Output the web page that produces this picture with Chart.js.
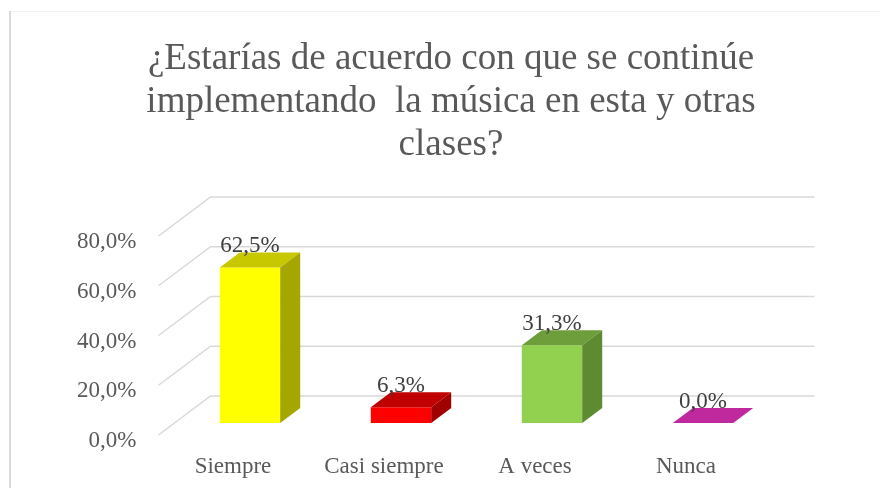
<!DOCTYPE html>
<html lang="es">
<head>
<meta charset="utf-8">
<title>Música en clase</title>
<script src="https://cdn.jsdelivr.net/npm/chart.js"></script>
<style>
  html, body { margin: 0; padding: 0; background: #fff; }
  #wrap { width: 880px; height: 488px; }
</style>
</head>
<body>
<div id="wrap"><canvas id="musicaChart" width="880" height="488"></canvas></div>
<script>
    // data
    const categories = ['Siempre', 'Casi siempre', 'A veces', 'Nunca'];
    const percentages = [0.625, 0.063, 0.313, 0.0];
    const titleLines = ['¿Estarías de acuerdo con que se continúe', 'implementando  la música en esta y otras', 'clases?'];

    // face colours: front / top / side
    const frontColors = ['#FFFF00', '#FF0000', '#92D050', '#C0289E'];
    const topColors = ['#C8C800', '#C00000', '#6E9E3C', '#C0289E'];
    const sideColors = ['#A6A600', '#A00000', '#5E8A32', '#9A1F80'];

    const FONT = "'Liberation Serif', 'Times New Roman', serif";
    const DEPTH_X = 20, DEPTH_Y = 15;  // bar depth
    const fmt = v => (v * 100).toFixed(1).replace('.', ',') + '%';

    // white background + the cut off chart border
    const frame = {
        id: 'frame',
        beforeDraw(chart) {
            const c = chart.ctx;
            c.save();
            c.fillStyle = '#fff';
            c.fillRect(0, 0, chart.width, chart.height);
            c.strokeStyle = '#f2f2f2';
            c.lineWidth = 1;
            c.beginPath();
            c.moveTo(10, 11.5);
            c.lineTo(chart.width, 11.5);
            c.stroke();
            c.strokeStyle = '#d9d9d9';
            c.lineWidth = 2;
            c.beginPath();
            c.moveTo(10, 11);
            c.lineTo(10, chart.height);
            c.stroke();
            c.restore();
        }
    };

    // back wall + left wall grid lines, like Excel's 3D column chart
    const walls = {
        id: 'walls',
        beforeDatasetsDraw(chart) {
            const c = chart.ctx;
            const area = chart.chartArea;
            const y = chart.scales.y;
            c.save();
            c.strokeStyle = '#d9d9d9';
            c.lineWidth = 1.5;
            y.ticks.forEach(t => {
                const yf = y.getPixelForValue(t.value);
                const yb = yf - 27;
                c.beginPath();
                c.moveTo(area.left - 16, yf + 12);
                c.lineTo(area.left + 36, yb);
                c.lineTo(area.right + 36, yb);
                c.stroke();
            });
            c.restore();
        }
    };

    // top and side faces of each column, then the value labels
    const columns3d = {
        id: 'columns3d',
        afterDatasetsDraw(chart) {
            const c = chart.ctx;
            const meta = chart.getDatasetMeta(0);
            c.save();
            meta.data.forEach((bar, i) => {
                const l = bar.x - bar.width / 2;
                const r = bar.x + bar.width / 2;
                const top = bar.y, base = bar.base;
                c.fillStyle = topColors[i];
                c.beginPath();
                c.moveTo(l, top);
                c.lineTo(r, top);
                c.lineTo(r + DEPTH_X, top - DEPTH_Y);
                c.lineTo(l + DEPTH_X, top - DEPTH_Y);
                c.closePath();
                c.fill();
                if (base - top > 0.5) {
                    c.fillStyle = sideColors[i];
                    c.beginPath();
                    c.moveTo(r, top);
                    c.lineTo(r + DEPTH_X, top - DEPTH_Y);
                    c.lineTo(r + DEPTH_X, base - DEPTH_Y);
                    c.lineTo(r, base);
                    c.closePath();
                    c.fill();
                }
            });
            c.fillStyle = '#404040';
            c.font = '23px ' + FONT;
            c.textAlign = 'center';
            c.textBaseline = 'alphabetic';
            meta.data.forEach((bar, i) => {
                c.fillText(fmt(percentages[i]), bar.x, bar.y - 15.5);
            });
            c.restore();
        }
    };

    const ctx = document.getElementById('musicaChart').getContext('2d');
    new Chart(ctx, {
        type: 'bar',
        data: {
            labels: categories,
            datasets: [{
                data: percentages,
                backgroundColor: frontColors,
                borderWidth: 0,
                barPercentage: 0.4,
                categoryPercentage: 1.0
            }]
        },
        options: {
            responsive: false,
            animation: false,
            layout: { padding: { top: 0, right: 0, bottom: 0, left: 22 } },
            plugins: {
                legend: { display: false },
                tooltip: { enabled: false },
                title: {
                    display: true,
                    text: titleLines,
                    color: '#595959',
                    font: { family: FONT, size: 37, weight: 'normal', lineHeight: 1.162 },
                    padding: { top: 38, bottom: 57 }
                }
            },
            scales: {
                x: {
                    grid: { display: false, drawTicks: false },
                    border: { display: false },
                    ticks: {
                        color: '#595959',
                        font: { family: FONT, size: 23 },
                        padding: 30,
                        labelOffset: -17,
                        maxRotation: 0
                    },
                    afterFit(scale) { scale.height = 65; }
                },
                y: {
                    min: 0,
                    max: 0.8,
                    grid: { display: false, drawTicks: false },
                    border: { display: false },
                    ticks: {
                        stepSize: 0.2,
                        color: '#595959',
                        font: { family: FONT, size: 23 },
                        padding: 38,
                        labelOffset: 18,
                        callback: v => fmt(v)
                    },
                    afterFit(scale) { scale.width = 152.5; }
                },
                // empty axis that only keeps the space right of the plot
                yRight: {
                    type: 'linear',
                    position: 'right',
                    grid: { display: false, drawTicks: false },
                    border: { display: false },
                    ticks: { display: false },
                    afterFit(scale) { scale.width = 101.5; }
                }
            }
        },
        plugins: [frame, walls, columns3d]
    });
</script>
</body>
</html>
